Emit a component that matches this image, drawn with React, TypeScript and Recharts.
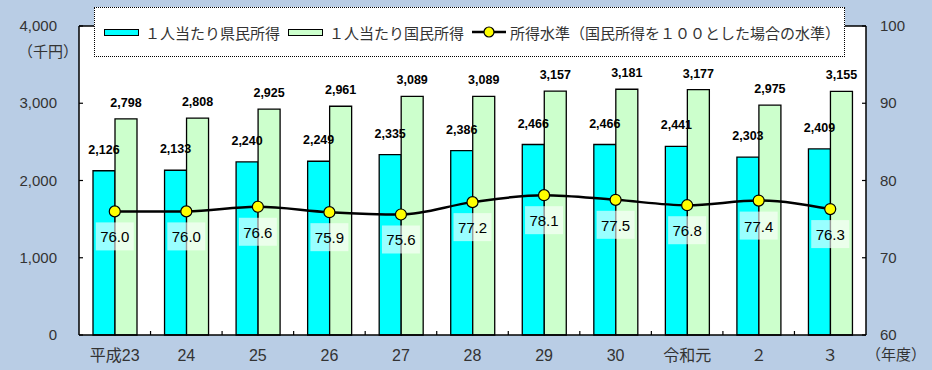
import React from 'react';
import {
  ComposedChart,
  Bar,
  Line,
  XAxis,
  YAxis,
  CartesianGrid,
  LabelList,
  ReferenceLine,
} from 'recharts';

// Data
const categories = ['平成23', '24', '25', '26', '27', '28', '29', '30', '令和元', '２', '３'];
const prefIncome = [2126, 2133, 2240, 2249, 2335, 2386, 2466, 2466, 2441, 2303, 2409];
const nationalIncome = [2798, 2808, 2925, 2961, 3089, 3089, 3157, 3181, 3177, 2975, 3155];
const incomeLevel = [76.0, 76.0, 76.6, 75.9, 75.6, 77.2, 78.1, 77.5, 76.8, 77.4, 76.3];
const leftTicks = [0, 1000, 2000, 3000, 4000];
const rightTicks = [60, 70, 80, 90, 100];

const PREF_LABEL = '１人当たり県民所得';
const NATIONAL_LABEL = '１人当たり国民所得';
const LEVEL_LABEL = '所得水準（国民所得を１００とした場合の水準）';

const W = 932;
const H = 370;
const PLOT = { left: 79, right: 866, top: 26, bottom: 335 };
const BAND = (PLOT.right - PLOT.left) / categories.length;

const BG = '#B9CDE5';
const CYAN = '#00FFFF';
const GREEN = '#CCFFCC';
const TEXT = '#333333';
const FONT = "'Liberation Sans', Arial, 'Noto Sans CJK JP', sans-serif";

const chartData = categories.map((name, i) => ({
  name,
  pref: prefIncome[i],
  national: nationalIncome[i],
  level: incomeLevel[i],
}));

const fmt = (v: number) => v.toLocaleString('en-US');

function LeftTick({ x, y, payload }: any) {
  return (
    <g>
      <line x1={x + 22} x2={x + 26} y1={y} y2={y} stroke="#000" strokeWidth={1.2} />
      <text x={x} y={y + 5} textAnchor="end" fontSize={15} fill={TEXT} fontFamily={FONT}>
        {fmt(payload.value)}
      </text>
    </g>
  );
}

function RightTick({ x, y, payload }: any) {
  return (
    <g>
      <line x1={x - 14} x2={x - 18} y1={y} y2={y} stroke="#000" strokeWidth={1.2} />
      <text x={x} y={y + 5} textAnchor="start" fontSize={15} fill={TEXT} fontFamily={FONT}>
        {payload.value}
      </text>
    </g>
  );
}

function BottomTick({ x, y, payload, index }: any) {
  return (
    <g>
      {index < categories.length - 1 && (
        <line x1={x + BAND / 2} x2={x + BAND / 2} y1={y} y2={y - 4} stroke="#000" strokeWidth={1.2} />
      )}
      <text x={x} y={y + 26} textAnchor="middle" fontSize={16} fill={TEXT} fontFamily={FONT}>
        {payload.value}
      </text>
    </g>
  );
}

const barLabel = (lift: number) => (props: any) => {
  const { x, y, width, value } = props;
  return (
    <text
      x={x + width / 2}
      y={y - lift}
      textAnchor="middle"
      fontSize={12.5}
      fontWeight="bold"
      fill="#000"
      fontFamily={FONT}
    >
      {fmt(value)}
    </text>
  );
};

function LevelLabel(props: any) {
  const { x, y, value } = props;
  return (
    <g>
      <rect x={x - 19} y={y + 11} width={38} height={28} fill="#fff" fillOpacity={0.6} />
      <text x={x} y={y + 31} textAnchor="middle" fontSize={15} fill="#000" fontFamily={FONT}>
        {value.toFixed(1)}
      </text>
    </g>
  );
}

function LegendBox() {
  const item: React.CSSProperties = { display: 'flex', alignItems: 'center' };
  const swatch = (color: string): React.CSSProperties => ({
    width: 33,
    height: 5,
    background: color,
    border: '1.5px solid #000',
    marginRight: 6,
  });
  return (
    <div
      style={{
        position: 'absolute',
        left: 94,
        top: 7,
        width: 751,
        height: 50,
        boxSizing: 'border-box',
        background: '#fff',
        border: '1.5px dotted #000',
        display: 'flex',
        alignItems: 'center',
        paddingLeft: 9,
        fontFamily: "'Noto Sans CJK JP', sans-serif",
        fontSize: 15,
        color: TEXT,
        whiteSpace: 'nowrap',
      }}
    >
      <div style={{ ...item, marginRight: 8 }}>
        <span style={swatch(CYAN)} />
        <span>{PREF_LABEL}</span>
      </div>
      <div style={{ ...item, marginRight: 8 }}>
        <span style={swatch(GREEN)} />
        <span>{NATIONAL_LABEL}</span>
      </div>
      <div style={item}>
        <svg width={34} height={14} style={{ marginRight: 4 }}>
          <line x1={0} x2={34} y1={7} y2={7} stroke="#000" strokeWidth={2.5} />
          <circle cx={17} cy={7} r={5} fill="#FFFF00" stroke="#000" strokeWidth={1.2} />
        </svg>
        <span>{LEVEL_LABEL}</span>
      </div>
    </div>
  );
}

export default function App() {
  return (
    <div
      style={{
        position: 'absolute',
        left: 0,
        top: 0,
        width: W,
        height: H,
        background: BG,
        overflow: 'hidden',
      }}
    >
      <ComposedChart
        width={W}
        height={H}
        data={chartData}
        margin={{ top: PLOT.top, right: 0, left: 0, bottom: 0 }}
        barGap={0}
        barSize={22}
      >
        <CartesianGrid horizontal={false} vertical={false} fill="#fff" />
        <XAxis
          dataKey="name"
          height={H - PLOT.bottom}
          tickSize={0}
          tickMargin={0}
          tick={<BottomTick />}
          axisLine={{ stroke: '#000', strokeWidth: 1.5 }}
          interval={0}
        />
        <YAxis
          yAxisId="left"
          width={PLOT.left}
          domain={[0, 4000]}
          ticks={leftTicks}
          tickSize={0}
          tickMargin={22}
          tick={<LeftTick />}
          axisLine={{ stroke: '#000', strokeWidth: 1.5 }}
        />
        <YAxis
          yAxisId="right"
          orientation="right"
          width={W - PLOT.right}
          domain={[60, 100]}
          ticks={rightTicks}
          tickSize={0}
          tickMargin={14}
          tick={<RightTick />}
          axisLine={{ stroke: '#000', strokeWidth: 1.5 }}
        />
        <ReferenceLine yAxisId="left" y={4000} stroke="#000" strokeWidth={1.5} />
        <Bar
          yAxisId="left"
          dataKey="pref"
          name={PREF_LABEL}
          fill={CYAN}
          stroke="#000"
          strokeWidth={1.3}
          isAnimationActive={false}
        >
          <LabelList dataKey="pref" content={barLabel(17)} />
        </Bar>
        <Bar
          yAxisId="left"
          dataKey="national"
          name={NATIONAL_LABEL}
          fill={GREEN}
          stroke="#000"
          strokeWidth={1.3}
          isAnimationActive={false}
        >
          <LabelList dataKey="national" content={barLabel(12)} />
        </Bar>
        <Line
          yAxisId="right"
          dataKey="level"
          name={LEVEL_LABEL}
          type="monotone"
          stroke="#000"
          strokeWidth={2.5}
          dot={{ r: 5.5, fill: '#FFFF00', stroke: '#000', strokeWidth: 1.2 }}
          isAnimationActive={false}
        >
          <LabelList dataKey="level" content={<LevelLabel />} />
        </Line>
      </ComposedChart>

      {/* unit captions */}
      <div
        style={{
          position: 'absolute',
          left: 18,
          top: 40,
          fontFamily: "'Noto Sans CJK JP', sans-serif",
          fontSize: 15,
          color: TEXT,
        }}
      >
        （千円）
      </div>
      <div
        style={{
          position: 'absolute',
          left: 866,
          top: 343,
          fontFamily: "'Noto Sans CJK JP', sans-serif",
          fontSize: 15,
          color: TEXT,
        }}
      >
        （年度）
      </div>

      <LegendBox />
    </div>
  );
}
